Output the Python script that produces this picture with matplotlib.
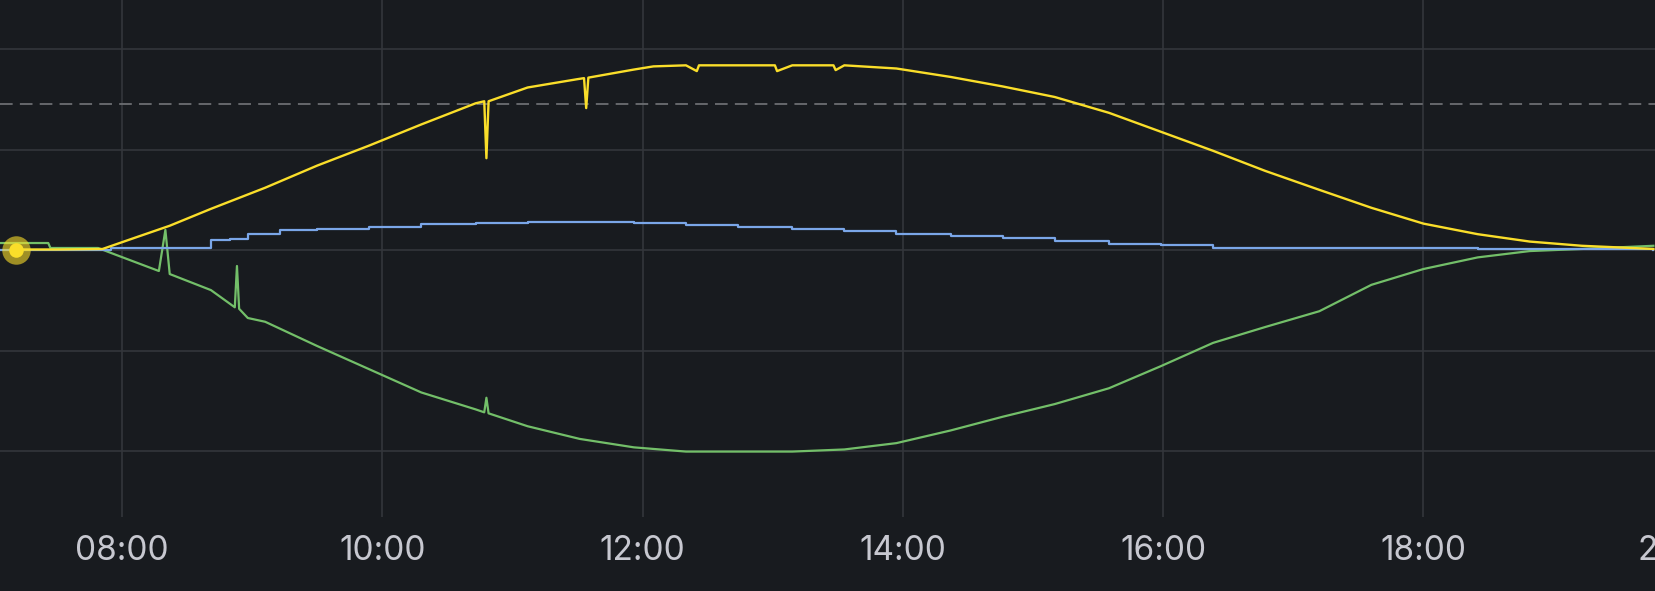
import matplotlib
matplotlib.use("Agg")
import matplotlib.pyplot as plt
import matplotlib.transforms as mtransforms

# power readings (W) over the day
yellow_times = ["07:11", "07:30", "07:51", "08:05", "08:22", "08:41", "09:06", "09:30", "09:54",
	"10:18", "10:43", "10:47", "10:48", "10:49", "11:07", "11:30", "11:33", "11:34", "11:35",
	"11:56", "12:05", "12:20", "12:25", "12:26", "12:44", "13:01", "13:02", "13:09", "13:28",
	"13:29", "13:33", "13:57", "14:22", "14:46", "15:10", "15:35", "15:59", "16:23", "16:47",
	"17:12", "17:36", "18:00", "18:25", "18:49", "19:13", "19:46"]
yellow_values = [10, 10, 20, 230, 483, 819, 1239, 1680, 2079,
	2499, 2919, 2960, 1827, 2960, 3234, 3400, 3420, 2824, 3430,
	3591, 3654, 3675, 3560, 3675, 3675, 3675, 3560, 3675, 3675,
	3580, 3675, 3612, 3444, 3255, 3045, 2730, 2352, 1974, 1575,
	1197, 840, 525, 315, 168, 84, 21]

green_times = ["07:04", "07:26", "07:27", "07:49", "07:55", "08:17", "08:20", "08:22", "08:41",
	"08:52", "08:53", "08:54", "08:58", "09:06", "09:30", "09:54", "10:18", "10:43", "10:47",
	"10:48", "10:49", "11:07", "11:31", "11:56", "12:20", "12:44", "13:09", "13:33", "13:57",
	"14:22", "14:46", "15:10", "15:35", "15:59", "16:23", "16:47", "17:12", "17:36", "18:00",
	"18:25", "18:49", "19:13", "19:46"]
green_values = [139, 139, 40, 40, -60, -418, 400, -478, -798,
	-1140, -318, -1170, -1353, -1428, -1911, -2373, -2835, -3171, -3230,
	-2940, -3250, -3507, -3759, -3927, -4011, -4011, -4011, -3969, -3843,
	-3591, -3318, -3066, -2751, -2310, -1848, -1533, -1218, -693, -378,
	-147, -21, 21, 84]

blue_times = ["07:04", "07:55", "08:41", "08:50", "08:58", "09:13", "09:30", "09:54", "10:18",
	"10:43", "11:07", "11:31", "11:56", "12:20", "12:44", "13:09", "13:33", "13:57", "14:22",
	"14:46", "15:10", "15:35", "15:59", "16:23", "18:25", "19:46"]
blue_values = [0, 40, 199, 219, 318, 398, 420, 462, 525,
	546, 567, 567, 546, 504, 462, 420, 378, 315, 273,
	231, 189, 126, 105, 42, 21, 0]

threshold = 2900
tick_labels = ["08:00", "10:00", "12:00", "14:00", "16:00", "18:00", "20:00"]


def to_hours(t):
	hh, mm = t.split(":")
	return int(hh) + int(mm) / 60


bg = "#181b1f"
fig = plt.figure(figsize=(16.55, 5.91), dpi=100, facecolor=bg)
ax = fig.add_axes([0, 74 / 591, 1, 517 / 591], facecolor=bg)

yx = [to_hours(t) for t in yellow_times]
gx = [to_hours(t) for t in green_times]
bx = [to_hours(t) for t in blue_times]

ax.plot(gx, green_values, color="#73bf69", lw=1.6, zorder=3)
ax.plot(bx, blue_values, color="#7aa6e8", lw=1.6, drawstyle="steps-post", zorder=3)
ax.plot(yx, yellow_values, color="#fade2a", lw=1.7, zorder=4)

#hover point on first yellow sample
ax.scatter([yx[0]], [yellow_values[0]], s=420, color="#fade2a", alpha=0.6, lw=0, zorder=5)
ax.scatter([yx[0]], [yellow_values[0]], s=110, color="#fade2a", lw=0, zorder=6)

ax.axhline(threshold, color="#6c6e72", lw=1.3, dashes=(7, 4), zorder=2)

ax.set_xlim(7.0626, 19.779)
ax.set_ylim(-5313, 4975)
ax.set_yticks([-4000, -2000, 0, 2000, 4000])
ax.set_xticks([8, 10, 12, 14, 16, 18])
ax.set_xticklabels(tick_labels[:-1])
ax.grid(True, color="#33363b", lw=1.2, zorder=1)
ax.tick_params(axis="x", length=0, pad=13, labelsize=24, labelcolor="#c7c8d0")
ax.tick_params(axis="y", length=0, labelleft=False)
for lbl in ax.get_xticklabels():
	lbl.set_family(["Inter", "DejaVu Sans"])
for s in ax.spines.values():
	s.set_visible(False)

#label for 20:00 is partly cut by the right edge
trans = mtransforms.blended_transform_factory(ax.transData, ax.transAxes)
ax.text(20, -13 / 72 * 100 / 517, tick_labels[-1], transform=trans, ha="center", va="top",
	fontsize=24, color="#c7c8d0", family=["Inter", "DejaVu Sans"], clip_on=False)

fig.savefig("out.png", dpi=100, facecolor=bg)
